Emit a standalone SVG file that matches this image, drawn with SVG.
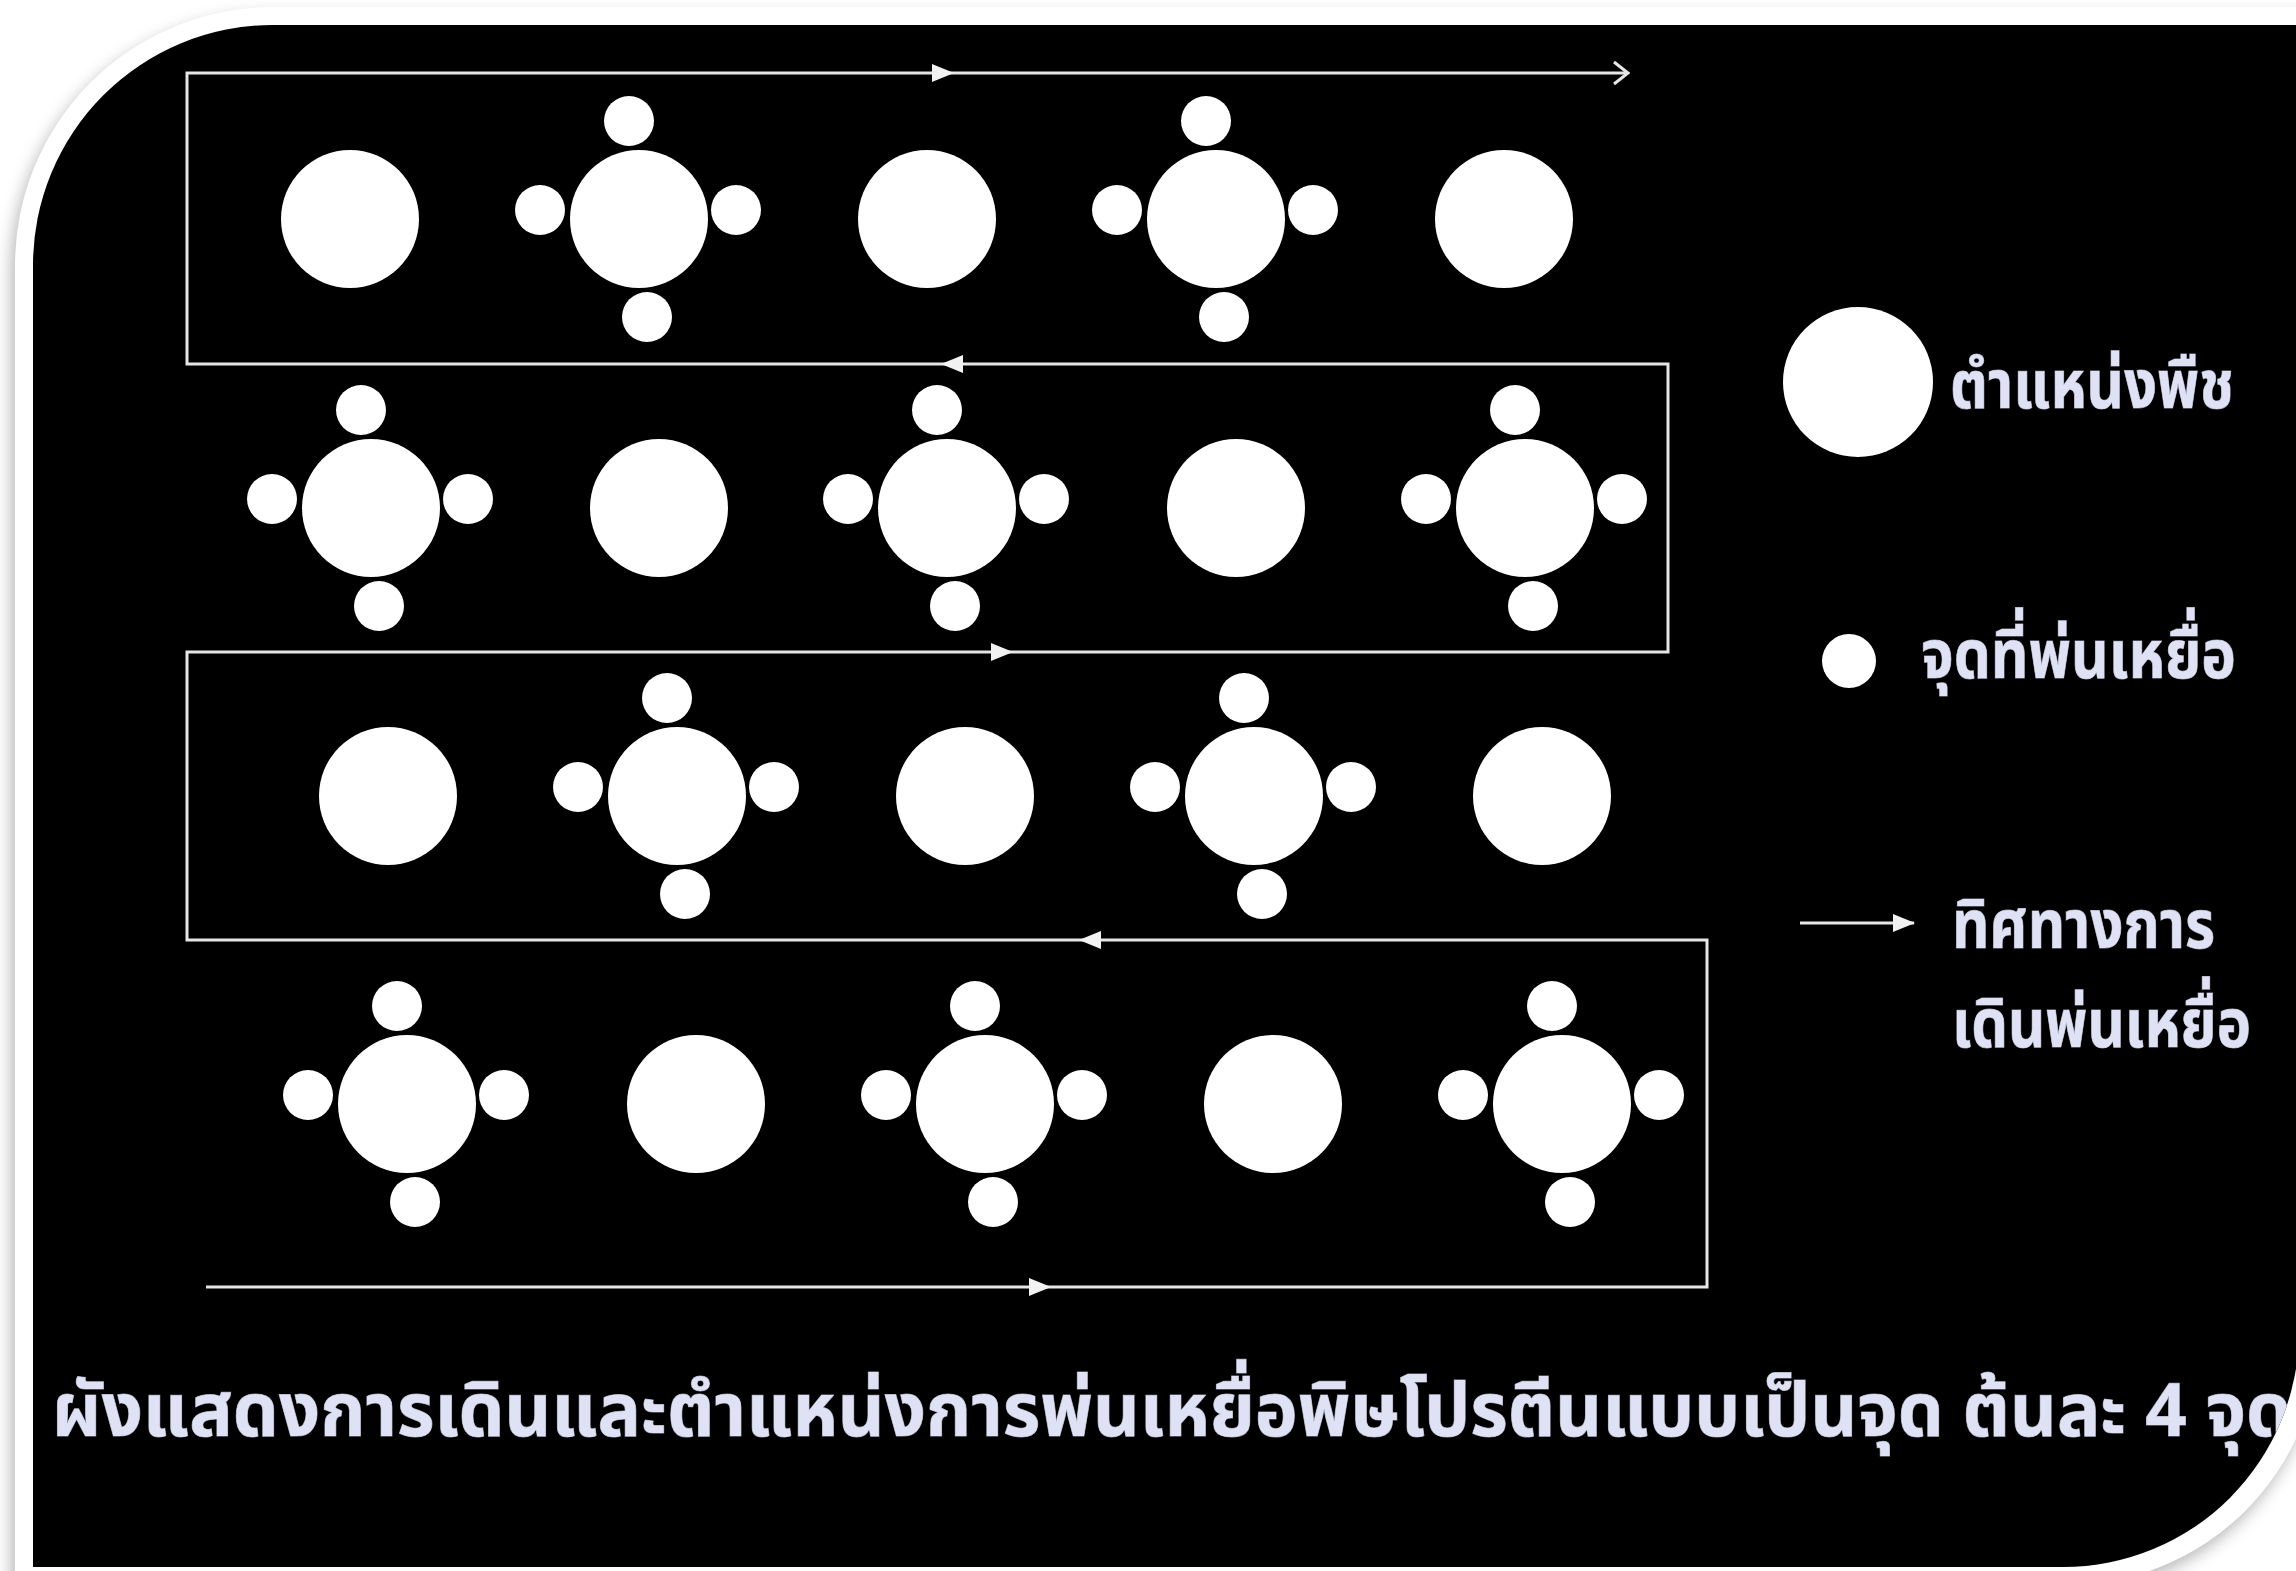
<svg xmlns="http://www.w3.org/2000/svg" width="2296" height="1571" viewBox="0 0 2296 1571">
  <style>
    .plant { fill: #ffffff; }
    .dot { fill: #ffffff; }
    .conn { fill: none; stroke: #e6e6e6; stroke-width: 3; }
    .lbl { fill: #dfe1f4; font-family: Tahoma, "Noto Sans Thai", "Noto Sans", "DejaVu Sans", sans-serif; font-size: 68px; font-weight: bold; stroke: #8e90a0; stroke-width: 1; paint-order: stroke; }
    .cap { font-size: 74px; }
  </style>
  <defs>
    <filter id="shadow" x="-5%" y="-5%" width="110%" height="110%">
      <feGaussianBlur stdDeviation="8"/>
    </filter>
    <marker id="tri" markerUnits="userSpaceOnUse" markerWidth="22" markerHeight="20" viewBox="0 0 22 20" refX="21" refY="10" orient="auto">
      <path d="M0,1 L22,10 L0,19 Z" fill="#f2f2f2"/>
    </marker>
    <marker id="chev" markerUnits="userSpaceOnUse" markerWidth="20" markerHeight="26" viewBox="0 0 20 26" refX="17" refY="13" orient="auto">
      <path d="M3,2 L17,13 L3,24" fill="none" stroke="#e6e6e6" stroke-width="3"/>
    </marker>
    <clipPath id="panelClip">
      <path d="M33,265 A240,240 0 0 1 273,25 L2299,25 L2299,1331 A236,236 0 0 1 2063,1567 L33,1567 Z"/>
    </clipPath>
    <g id="spray4">
      <circle class="dot" cx="-10" cy="-98" r="25"/>
      <circle class="dot" cx="8" cy="98" r="25"/>
      <circle class="dot" cx="-99" cy="-9" r="25"/>
      <circle class="dot" cx="97" cy="-9" r="25"/>
    </g>
  </defs>

  <!-- background and frame -->
  <rect x="0" y="0" width="2296" height="1571" fill="#ffffff"/>
  <path d="M15,265 A258,258 0 0 1 273,7 L2320,7 L2320,1331 A254,254 0 0 1 2063,1585 L15,1585 Z" fill="#8a8a8a" opacity="0.6" filter="url(#shadow)" transform="translate(-4,8)"/>
  <path d="M15,265 A258,258 0 0 1 273,7 L2320,7 L2320,1331 A254,254 0 0 1 2063,1585 L15,1585 Z" fill="#ffffff"/>
  <path d="M33,265 A240,240 0 0 1 273,25 L2299,25 L2299,1331 A236,236 0 0 1 2063,1567 L33,1567 Z" fill="#000000"/>

  <!-- connectors (walking path) -->
  <g id="connectors">
    <path class="conn" d="M206,1287 H1050" marker-end="url(#tri)"/>
    <path class="conn" d="M1050,1287 H1707 V940 H1080" marker-end="url(#tri)"/>
    <path class="conn" d="M1080,940 H187 V652 H1012" marker-end="url(#tri)"/>
    <path class="conn" d="M1012,652 H1668 V364 H942" marker-end="url(#tri)"/>
    <path class="conn" d="M942,364 H187 V73 H953" marker-end="url(#tri)"/>
    <path class="conn" d="M953,73 H1628" marker-end="url(#chev)"/>
  </g>

  <!-- row 1 -->
  <g id="r1p1"><circle class="plant" cx="350" cy="219" r="69"/></g>
  <g id="r1p2"><circle class="plant" cx="639" cy="219" r="69"/><use href="#spray4" x="639" y="219"/></g>
  <g id="r1p3"><circle class="plant" cx="927" cy="219" r="69"/></g>
  <g id="r1p4"><circle class="plant" cx="1216" cy="219" r="69"/><use href="#spray4" x="1216" y="219"/></g>
  <g id="r1p5"><circle class="plant" cx="1504" cy="219" r="69"/></g>

  <!-- row 2 -->
  <g id="r2p1"><circle class="plant" cx="371" cy="508" r="69"/><use href="#spray4" x="371" y="508"/></g>
  <g id="r2p2"><circle class="plant" cx="659" cy="508" r="69"/></g>
  <g id="r2p3"><circle class="plant" cx="947" cy="508" r="69"/><use href="#spray4" x="947" y="508"/></g>
  <g id="r2p4"><circle class="plant" cx="1236" cy="508" r="69"/></g>
  <g id="r2p5"><circle class="plant" cx="1525" cy="508" r="69"/><use href="#spray4" x="1525" y="508"/></g>

  <!-- row 3 -->
  <g id="r3p1"><circle class="plant" cx="388" cy="796" r="69"/></g>
  <g id="r3p2"><circle class="plant" cx="677" cy="796" r="69"/><use href="#spray4" x="677" y="796"/></g>
  <g id="r3p3"><circle class="plant" cx="965" cy="796" r="69"/></g>
  <g id="r3p4"><circle class="plant" cx="1254" cy="796" r="69"/><use href="#spray4" x="1254" y="796"/></g>
  <g id="r3p5"><circle class="plant" cx="1542" cy="796" r="69"/></g>

  <!-- row 4 -->
  <g id="r4p1"><circle class="plant" cx="407" cy="1104" r="69"/><use href="#spray4" x="407" y="1104"/></g>
  <g id="r4p2"><circle class="plant" cx="696" cy="1104" r="69"/></g>
  <g id="r4p3"><circle class="plant" cx="985" cy="1104" r="69"/><use href="#spray4" x="985" y="1104"/></g>
  <g id="r4p4"><circle class="plant" cx="1273" cy="1104" r="69"/></g>
  <g id="r4p5"><circle class="plant" cx="1562" cy="1104" r="69"/><use href="#spray4" x="1562" y="1104"/></g>

  <!-- legend -->
  <g id="legend-plant">
    <circle class="plant" cx="1858" cy="382" r="75"/>
    <text class="lbl" x="1950" y="408" textLength="284" lengthAdjust="spacingAndGlyphs">ตำแหน่งพืช</text>
  </g>
  <g id="legend-spray">
    <circle class="dot" cx="1849" cy="661" r="27"/>
    <text class="lbl" x="1921" y="678" textLength="315" lengthAdjust="spacingAndGlyphs">จุดที่พ่นเหยื่อ</text>
  </g>
  <g id="legend-direction">
    <path class="conn" d="M1800,923 H1914" marker-end="url(#tri)"/>
    <text class="lbl" x="1952" y="948" textLength="263" lengthAdjust="spacingAndGlyphs">ทิศทางการ</text>
    <text class="lbl" x="1952" y="1047" textLength="299" lengthAdjust="spacingAndGlyphs">เดินพ่นเหยื่อ</text>
  </g>

  <!-- caption -->
  <g id="caption" clip-path="url(#panelClip)">
    <text class="lbl cap" x="52" y="1436" textLength="2240" lengthAdjust="spacingAndGlyphs">ผังแสดงการเดินและตำแหน่งการพ่นเหยื่อพิษโปรตีนแบบเป็นจุด ต้นละ 4 จุด</text>
  </g>
</svg>
